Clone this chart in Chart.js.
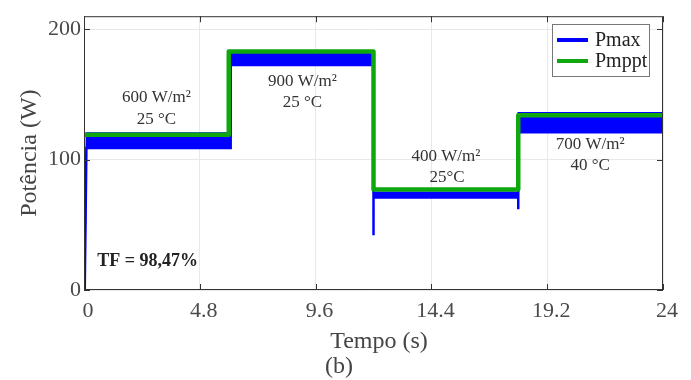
<!DOCTYPE html>
<html>
<head>
<meta charset="utf-8">
<script src="https://cdn.jsdelivr.net/npm/chart.js@4/dist/chart.umd.min.js"></script>
<style>
  body { margin: 0; background: #fff; }
  #wrap { width: 691px; height: 380px; }
</style>
</head>
<body>
<div id="wrap"><canvas id="powerChart" width="691" height="380"></canvas></div>
<script>
// tempo (s) e potência (W)
const pmaxTime  = [0.03, 0.1, 6.08, 6.08, 12.0, 12.0, 12.0, 18.0, 18.0, 18.0, 24];
const pmaxUpper = [0, 120.5, 120.5, 183, 183, 75, 75, 75, 136, 136, 136];
const pmaxLower = [0, 109, 109, 172.5, 172.5, 42, 71, 71, 62, 121, 121];

const pmpptTime = [0, 6, 6, 12, 12, 18, 18, 24];
const pmppt     = [119, 119, 183, 183, 77, 77, 134, 134];

const xTicks = [0, 4.8, 9.6, 14.4, 19.2, 24];
const yTicks = [0, 100, 200];

// anotações: texto e posição em unidades dos eixos
const notes = [
    { text: '600 W/m²', x: 3.0, y: 148 },
    { text: '25 °C', x: 3.0, y: 131 },
    { text: '900 W/m²', x: 9.05, y: 160 },
    { text: '25 °C', x: 9.05, y: 144 },
    { text: '400 W/m²', x: 15.0, y: 102 },
    { text: '25°C', x: 15.05, y: 86 },
    { text: '700 W/m²', x: 20.98, y: 111.6 },
    { text: '40 °C', x: 20.98, y: 95.5 }
];
const tfText = 'TF = 98,47%';

const BLUE = '#0000ff';
const GREEN = '#0ea80e';
const SERIF = '"Liberation Serif", "Times New Roman", serif';

function pts(xs, ys) {
    return xs.map((x, i) => ({ x: x, y: ys[i] }));
}

const framePlugin = {
    id: 'frame',
    afterDatasetsDraw(chart) {
        const c = chart.ctx, a = chart.chartArea;
        const xs = chart.scales.x, ys = chart.scales.y;
        c.save();
        c.strokeStyle = '#333';
        c.lineWidth = 1;
        c.strokeRect(a.left + 0.5, a.top + 0.5, a.right - a.left - 1, a.bottom - a.top - 1);
        c.beginPath();
        xTicks.forEach(v => {
            const px = Math.round(xs.getPixelForValue(v)) + 0.5;
            c.moveTo(px, a.bottom); c.lineTo(px, a.bottom - 6);
            c.moveTo(px, a.top); c.lineTo(px, a.top + 6);
        });
        yTicks.forEach(v => {
            const py = Math.round(ys.getPixelForValue(v)) + 0.5;
            c.moveTo(a.left, py); c.lineTo(a.left + 6, py);
            c.moveTo(a.right, py); c.lineTo(a.right - 6, py);
        });
        c.stroke();

        // anotações
        c.fillStyle = '#333';
        c.textAlign = 'center';
        c.textBaseline = 'middle';
        c.font = '17px ' + SERIF;
        notes.forEach(n => {
            c.fillText(n.text, xs.getPixelForValue(n.x), ys.getPixelForValue(n.y));
        });
        c.fillStyle = '#222';
        c.font = 'bold 18px ' + SERIF;
        c.fillText(tfText, xs.getPixelForValue(2.64), ys.getPixelForValue(22));

        // legenda
        const lx = 552, ly = 24, lw = 97, lh = 52;
        c.fillStyle = '#fff';
        c.fillRect(lx, ly, lw, lh);
        c.strokeStyle = '#777';
        c.strokeRect(lx + 0.5, ly + 0.5, lw, lh);
        const items = [
            { label: chart.data.datasets[1].label, color: BLUE, y: 40 },
            { label: chart.data.datasets[0].label, color: GREEN, y: 61 }
        ];
        c.textAlign = 'left';
        c.font = '20px ' + SERIF;
        items.forEach(it => {
            c.strokeStyle = it.color;
            c.lineWidth = 4;
            c.beginPath();
            c.moveTo(557, it.y); c.lineTo(588, it.y);
            c.stroke();
            c.fillStyle = '#222';
            c.fillText(it.label, 595, it.y + 1);
        });

        // títulos dos eixos
        c.fillStyle = '#444';
        c.font = '24px ' + SERIF;
        c.textAlign = 'center';
        c.fillText('Tempo (s)', 379, 342);
        c.fillText('(b)', 339, 367);
        c.save();
        c.translate(30, (a.top + a.bottom) / 2);
        c.rotate(-Math.PI / 2);
        c.fillText('Potência (W)', 0, 0);
        c.restore();
        c.restore();
    }
};

new Chart(document.getElementById('powerChart'), {
    type: 'line',
    data: {
        datasets: [
            {
                label: 'Pmppt',
                data: pts(pmpptTime, pmppt),
                borderColor: GREEN,
                borderWidth: 4.5,
                borderJoinStyle: 'round',
                pointRadius: 0,
                fill: false,
                order: 0
            },
            {
                label: 'Pmax',
                data: pts(pmaxTime, pmaxUpper),
                borderColor: BLUE,
                borderWidth: 1.5,
                pointRadius: 0,
                fill: false,
                order: 1
            },
            {
                label: 'Pmax (inferior)',
                data: pts(pmaxTime, pmaxLower),
                borderColor: BLUE,
                borderWidth: 2.5,
                backgroundColor: BLUE,
                pointRadius: 0,
                fill: 1,
                order: 2
            }
        ]
    },
    options: {
        responsive: false,
        animation: false,
        layout: { padding: { left: 0, right: 28, top: 10, bottom: 0 } },
        plugins: {
            legend: { display: false },
            tooltip: { enabled: false }
        },
        scales: {
            x: {
                type: 'linear',
                min: 0,
                max: 24,
                afterBuildTicks: s => { s.ticks = xTicks.map(v => ({ value: v })); },
                afterFit: s => { s.height = 90; },
                grid: { color: '#e8e8e8', drawTicks: false },
                border: { display: false },
                ticks: {
                    padding: 8,
                    labelOffset: 4,
                    color: '#4a4a4a',
                    font: { family: SERIF, size: 22 },
                    maxRotation: 0,
                    callback: v => String(v)
                }
            },
            y: {
                min: 0,
                max: 210,
                afterBuildTicks: s => { s.ticks = yTicks.map(v => ({ value: v })); },
                afterFit: s => { s.width = 84; },
                grid: { color: '#e8e8e8', drawTicks: false },
                border: { display: false },
                ticks: {
                    padding: 3,
                    color: '#4a4a4a',
                    font: { family: SERIF, size: 22 }
                }
            }
        }
    },
    plugins: [framePlugin]
});
</script>
</body>
</html>
